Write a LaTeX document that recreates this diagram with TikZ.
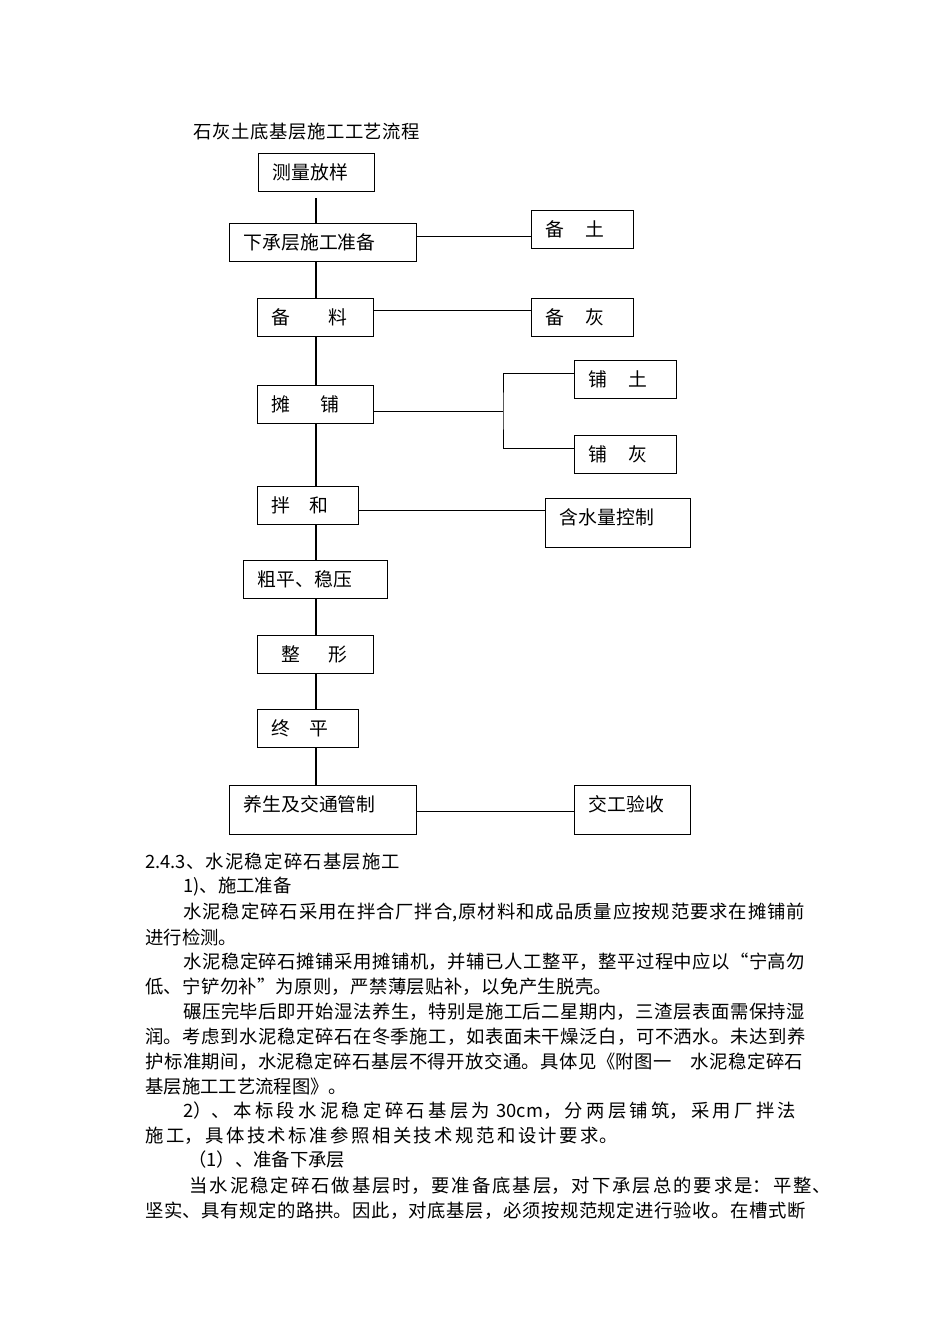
\documentclass[tikz,border=0pt]{standalone}
\usepackage{fontspec}
\usepackage{tikz}
\setmainfont{Noto Sans CJK SC}
\XeTeXlinebreaklocale "zh"
\XeTeXlinebreakskip=0pt plus 2pt
\newcommand{\fullend}{\nobreak\parfillskip=0pt\tolerance=10000\relax\par}

\tikzset{
    box/.style={draw, line width=0.8pt, anchor=north west, inner xsep=8.8pt, inner ysep=0pt,
        align=left, text height=16pt, text depth=7.5pt, font=\fontsize{11.8}{14}\selectfont},
    tallbox/.style={box, text depth=14.7pt},
    spine/.style={line width=1.2pt},
    branch/.style={line width=0.6pt},
    bodyline/.style={anchor=west, inner sep=0pt, font=\fontsize{11.5}{14}\selectfont},
    fullline/.style={bodyline, text width=#1, align=justify}
}

\begin{document}
\begin{tikzpicture}[x=0.6266pt, y=-0.6266pt]
        \fill[white] (0,0) rectangle (950,1344);
        \useasboundingbox (0,0) rectangle (950,1344);

        % title
        \node[fullline=142.2pt] (liucheng) at (193,132) {石灰土底基层施工工艺流程\fullend};

        % main column
        \node[box, text width=55.1pt] (celiang) at (258,153) {测量放样};
        \node[box, text width=99.6pt] (xiacheng) at (229,223) {下承层施工准备};
        \node[box, text width=55.1pt] (beiliao) at (257,298) {备\hspace{2em}料};
        \node[box, text width=55.1pt] (tanpu) at (257,385) {摊\hspace{1.6em}铺};
        \node[box, text width=45.7pt] (banhe) at (257,486) {拌\hspace{1em}和};
        \node[box, text width=72.7pt] (cuping) at (243,560) {粗平、稳压};
        \node[box, text width=55.1pt] (zhengxing) at (257,635) {\hspace*{0.5em}整\hspace{1.5em}形};
        \node[box, text width=45.7pt] (zhongping) at (257,709) {终\hspace{1em}平};
        \node[tallbox, text width=99.6pt] (yangsheng) at (229,785) {养生及交通管制};

        % side boxes
        \node[box, text width=46.4pt] (beitu) at (531,210) {备\hspace{1.1em}土};
        \node[box, text width=46.4pt] (beihui) at (531,298) {备\hspace{1.1em}灰};
        \node[box, text width=46.4pt] (putu) at (574,360) {铺\hspace{1.1em}土};
        \node[box, text width=46.4pt] (puhui) at (574,435) {铺\hspace{1.1em}灰};
        \node[tallbox, text width=73.3pt] (hanshui) at (545,498) {含水量控制};
        \node[tallbox, text width=55.1pt] (jiaogong) at (574,785) {交工验收};

        % vertical line
        \coordinate (top) at (316,198);
        \draw[spine] (top) -- (xiacheng.north -| top);
        \draw[spine] (xiacheng.south -| top) -- (beiliao.north -| top);
        \draw[spine] (beiliao.south -| top) -- (tanpu.north -| top);
        \draw[spine] (tanpu.south -| top) -- (banhe.north -| top);
        \draw[spine] (banhe.south -| top) -- (cuping.north -| top);
        \draw[spine] (cuping.south -| top) -- (zhengxing.north -| top);
        \draw[spine] (zhengxing.south -| top) -- (zhongping.north -| top);
        \draw[spine] (zhongping.south -| top) -- (yangsheng.north -| top);

        % side lines
        \draw[branch] (xiacheng.east |- 0,236) -- (beitu.west |- 0,236);
        \draw[branch] (beiliao.east |- 0,310) -- (beihui.west |- 0,310);
        \coordinate (fork) at (503,411);
        \draw[branch] (tanpu.east |- fork) -- (fork);
        \draw[branch] (putu.west |- 0,373) -| (fork) |- (puhui.west |- 0,448);
        \draw[branch] (banhe.east |- 0,510) -- (hanshui.west |- 0,510);
        \draw[branch] (yangsheng.east |- 0,811) -- (jiaogong.west |- 0,811);

        % text below
        \node[fullline=159.8pt] (p1) at (145,862) {2.4.3、水泥稳定碎石基层施工\fullend};
        \node[bodyline] (p2) at (183,887) {1)、施工准备};
        \node[fullline=389.7pt] (p3) at (183,912) {水泥稳定碎石采用在拌合厂拌合,原材料和成品质量应按规范要求在摊铺前\fullend};
        \node[bodyline] (p4) at (145,937) {进行检测。};
        \node[fullline=389.7pt] (p5) at (183,962) {水泥稳定碎石摊铺采用摊铺机，并辅已人工整平，整平过程中应以“宁高勿\fullend};
        \node[fullline=292.6pt] (p6) at (145,987) {低、宁铲勿补”为原则，严禁薄层贴补，以免产生脱壳。\fullend};
        \node[fullline=389.7pt] (p7) at (183,1012) {碾压完毕后即开始湿法养生，特别是施工后二星期内，三渣层表面需保持湿\fullend};
        \node[fullline=413.6pt] (p8) at (145,1037) {润。考虑到水泥稳定碎石在冬季施工，如表面未干燥泛白，可不洒水。未达到养\fullend};
        \node[fullline=412.3pt] (p9) at (145,1062) {护标准期间，水泥稳定碎石基层不得开放交通。具体见《附图一　水泥稳定碎石\fullend};
        \node[bodyline] (p10) at (145,1087) {基层施工工艺流程图》。};
        \node[fullline=384.1pt] (p11) at (183,1111) {2）、本标段水泥稳定碎石基层为 30cm，分两层铺筑，采用厂拌法\fullend};
        \node[fullline=295.8pt] (p12) at (145,1136) {施工，具体技术标准参照相关技术规范和设计要求。\fullend};
        \node[bodyline] (p13) at (188,1160) {（1）、准备下承层};
        \node[fullline=401.7pt] (p14) at (189,1186) {当水泥稳定碎石做基层时，要准备底基层，对下承层总的要求是：平整、\fullend};
        \node[fullline=413.6pt] (p15) at (145,1211) {坚实、具有规定的路拱。因此，对底基层，必须按规范规定进行验收。在槽式断\fullend};

\end{tikzpicture}
\end{document}
